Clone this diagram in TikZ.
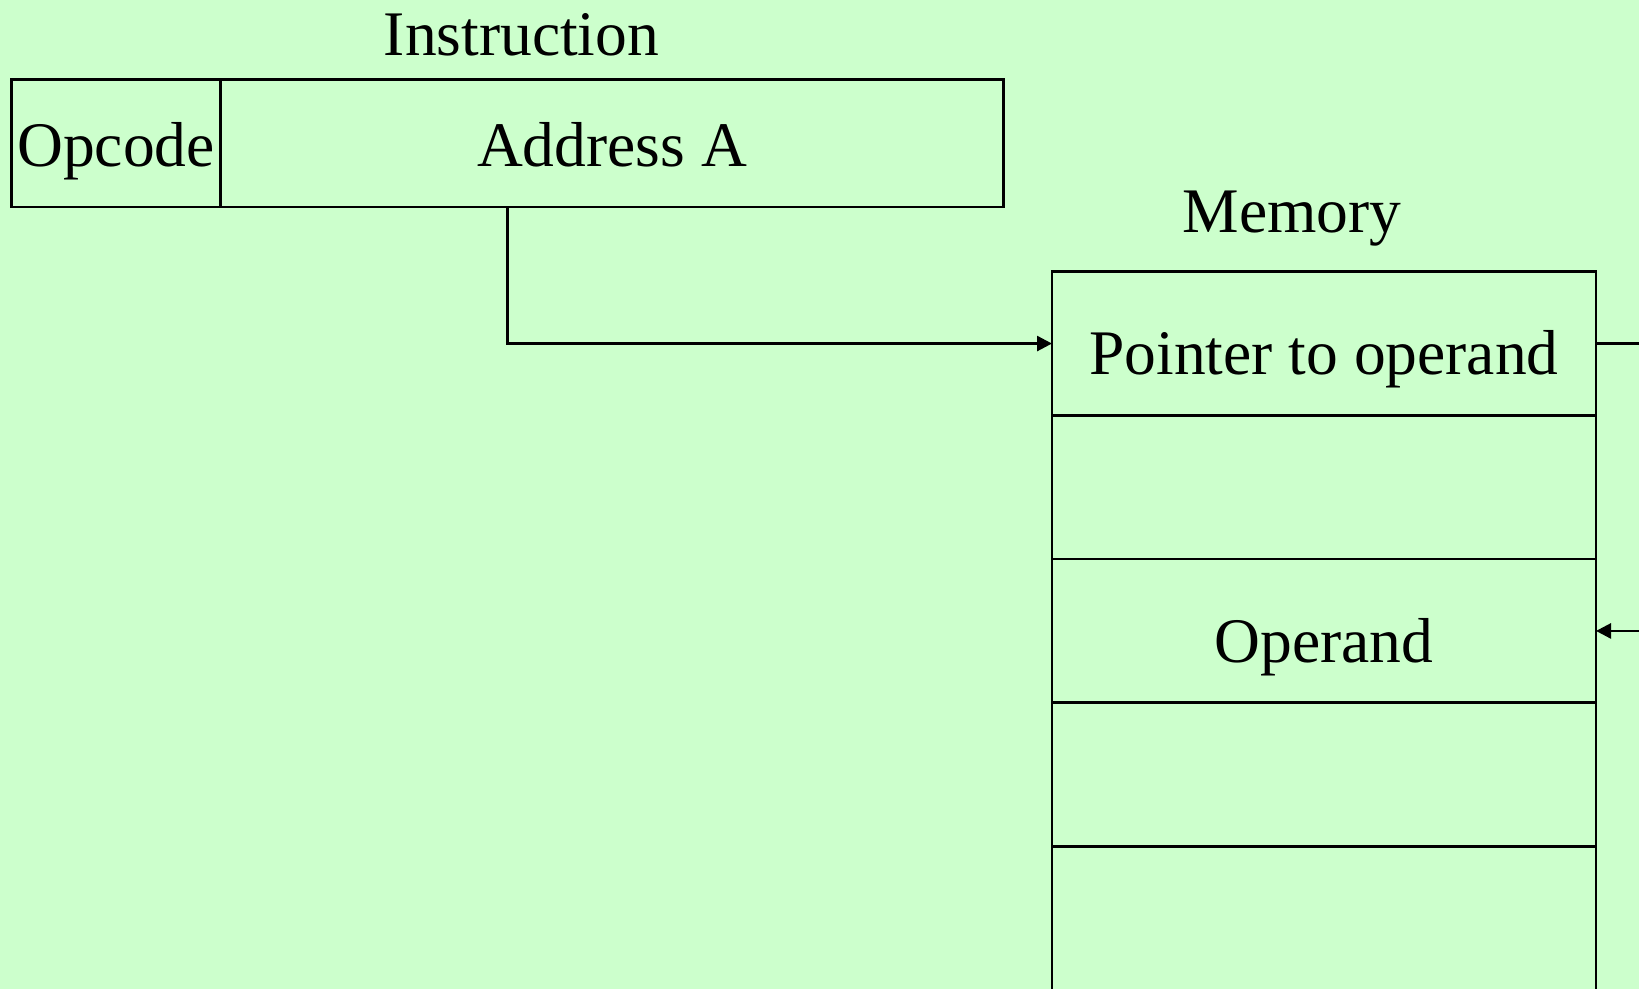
\documentclass[tikz,border=0pt]{standalone}
\usepackage{fontspec}
\setmainfont{Liberation Serif}
\usetikzlibrary{arrows.meta}
\definecolor{bggreen}{HTML}{CCFFCC}
\tikzset{
  ln/.style={line width=1.35pt, draw=black},
  cell/.style={ln, rectangle, inner sep=0pt, outer sep=0pt, anchor=center,
    font=\fontsize{31.75}{38}\selectfont},
  instcell/.style={cell, minimum height=63.8pt, text height=24.5pt, text depth=1pt},
  memcell/.style={cell, minimum width=272pt, minimum height=71.85pt, text height=32.4pt, text depth=1pt},
  lbl/.style={inner sep=0pt, anchor=base, font=\fontsize{31.75}{38}\selectfont},
  conn/.style={ln, -{Triangle[length=7.5pt,width=7.5pt]}}
}
\begin{document}
\begin{tikzpicture}[x=0.5pt,y=-0.5pt]
\useasboundingbox (0,0) rectangle (1639,989);
\fill[bggreen] (0,0) rectangle (1639,989);
\clip (0,0) rectangle (1639,989);
% Instruction
\node[lbl] (instlbl) at (521.5,56) {Instruction};
\node[instcell, minimum width=104.55pt] (opcode) at (116.05,143.2) {Opcode};
\node[instcell, minimum width=391.45pt] (addr) at (612.05,143.2) {Address A};
% Memory
\node[lbl] (memlbl) at (1292,233) {Memory};
\node[memcell] (ptr) at (1324,343.55) {Pointer to operand};
\node[memcell] (m2) at (1324,487.25) {};
\node[memcell] (op) at (1324,630.95) {Operand};
\node[memcell] (m4) at (1324,774.65) {};
\node[memcell] (m5) at (1324,918.35) {};
% Connectors
\coordinate (bend) at (507.5,343.55);
\draw[conn] (bend |- addr.south) -- (bend) -- (ptr.west);
\coordinate (loop) at (1700,343.55);
\draw[conn] (ptr.east) -- (loop) -- (loop |- op.east) -- (op.east);
\end{tikzpicture}
\end{document}
